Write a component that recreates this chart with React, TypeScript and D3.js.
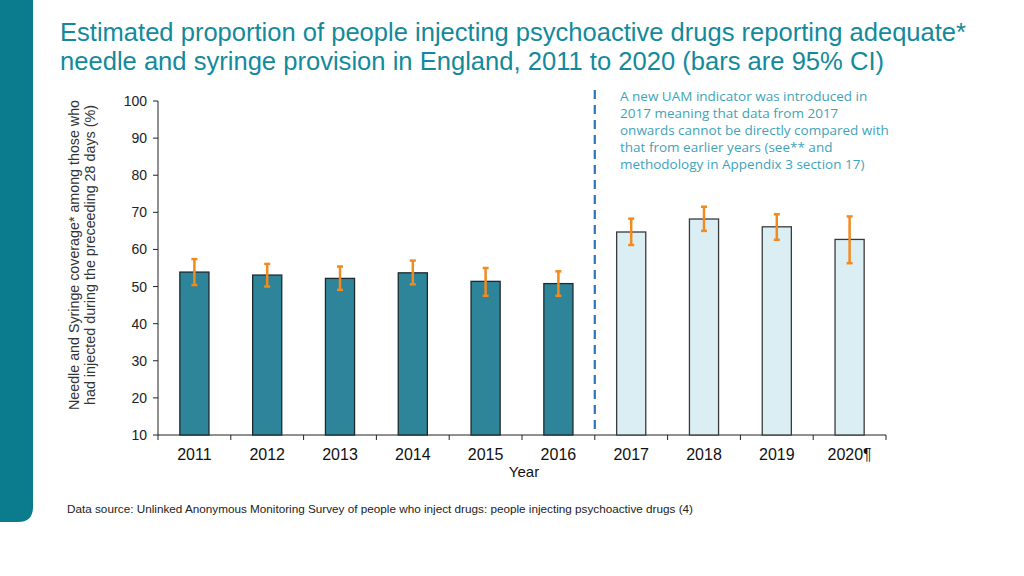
import React from "react";
import * as d3 from "d3";

const years = ["2011", "2012", "2013", "2014", "2015", "2016", "2017", "2018", "2019", "2020¶"];
const values = [53.9, 53.1, 52.2, 53.7, 51.4, 50.8, 64.7, 68.2, 66.1, 62.7];
const lower = [50.4, 50.0, 49.1, 50.6, 47.5, 47.5, 61.2, 65.0, 62.6, 56.3];
const upper = [57.4, 56.1, 55.4, 57.0, 55.0, 54.1, 68.3, 71.5, 69.5, 68.9];
const newIndicator = [false, false, false, false, false, false, true, true, true, true];
const yTicks = [10, 20, 30, 40, 50, 60, 70, 80, 90, 100];

const titleLines = [
  "Estimated proportion of people injecting psychoactive drugs reporting adequate*",
  "needle and syringe provision in England, 2011 to 2020 (bars are 95% CI)",
];
const noteLines = [
  "A new UAM indicator was introduced in",
  "2017 meaning that data from 2017",
  "onwards cannot be directly compared with",
  "that from earlier years (see** and",
  "methodology in Appendix 3 section 17)",
];
const yTitle = [
  "Needle and Syringe coverage* among those who",
  "had injected during the preceeding 28 days  (%)",
];
const source =
  "Data source: Unlinked Anonymous Monitoring Survey of people who inject drugs: people injecting psychoactive drugs (4)";

export default function App() {
  const W = 1024, H = 576;
  const left = 158, right = 886, top = 101, bottom = 435;
  const x = d3.scaleBand<string>().domain(years).range([left, right]).paddingInner(0).paddingOuter(0);
  const y = d3.scaleLinear().domain([10, 100]).range([bottom, top]);
  const bw = x.bandwidth() * 0.4;
  const teal = "#0B7B8E";
  const font = "'Liberation Sans', Arial, sans-serif";
  const dividerX = x("2017")!;
  const titleLen = [906, 824];

  return (
    <svg width={W} height={H} style={{ position: "absolute", left: 0, top: 0, background: "#fff" }}>
      <path d={`M0,0 H33 V507 Q33,522 18,522 H0 Z`} fill={teal} />
      {titleLines.map((t, i) => (
        <text key={i} x={60} y={41 + i * 29} fontFamily={font} fontSize={25.5} fill="#138A9B"
          textLength={titleLen[i]} lengthAdjust="spacingAndGlyphs">
          {t}
        </text>
      ))}

      {/* y axis */}
      <line x1={left} x2={left} y1={top} y2={bottom} stroke="#222" />
      {yTicks.map((t) => (
        <g key={t}>
          <line x1={left - 5} x2={left} y1={y(t)} y2={y(t)} stroke="#222" />
          <text x={left - 11} y={y(t) + 5} textAnchor="end" fontFamily={font} fontSize={14} fill="#222">
            {t}
          </text>
        </g>
      ))}
      {/* x axis */}
      <line x1={left} x2={right} y1={bottom} y2={bottom} stroke="#222" />
      {[...years.map((yr) => x(yr)!), right].map((p, i) => (
        <line key={i} x1={p} x2={p} y1={bottom} y2={bottom + 5} stroke="#222" />
      ))}
      {years.map((yr) => (
        <text key={yr} x={x(yr)! + x.bandwidth() / 2} y={460} textAnchor="middle" fontFamily={font} fontSize={16} fill="#111">
          {yr}
        </text>
      ))}
      <text x={524} y={477} textAnchor="middle" fontFamily={font} fontSize={15} fill="#111">Year</text>

      {/* y title */}
      <g transform={`translate(79,255) rotate(-90)`}>
        {yTitle.map((t, i) => (
          <text key={i} x={0} y={i * 16} textAnchor="middle" fontFamily={font} fontSize={14} fill="#333"
            textLength={i === 0 ? 310 : 300} lengthAdjust="spacingAndGlyphs">
            {t}
          </text>
        ))}
      </g>

      {/* bars */}
      {years.map((yr, i) => {
        const cx = x(yr)! + x.bandwidth() / 2;
        return (
          <rect
            key={yr}
            x={cx - bw / 2}
            y={y(values[i])}
            width={bw}
            height={bottom - y(values[i])}
            fill={newIndicator[i] ? "#DAEEF3" : "#2E8499"}
            stroke={newIndicator[i] ? "#3a3a3a" : "#1d2b30"}
            strokeWidth={1.3}
          />
        );
      })}
      {/* error bars */}
      {years.map((yr, i) => {
        const cx = x(yr)! + x.bandwidth() / 2;
        return (
          <g key={yr} stroke="#F28A1E" strokeWidth={2.5}>
            <line x1={cx} x2={cx} y1={y(upper[i])} y2={y(lower[i])} />
            <line x1={cx - 3} x2={cx + 3} y1={y(upper[i])} y2={y(upper[i])} />
            <line x1={cx - 3} x2={cx + 3} y1={y(lower[i])} y2={y(lower[i])} />
          </g>
        );
      })}

      {/* divider */}
      <line x1={dividerX} x2={dividerX} y1={90} y2={bottom} stroke="#2E75B6" strokeWidth={2.2} strokeDasharray="9,6" />

      {noteLines.map((t, i) => (
        <text key={i} x={620} y={101 + i * 17} fontFamily="'Open Sans', sans-serif" fontSize={13.5} fill="#3FA3B8">
          {t}
        </text>
      ))}

      <text x={67} y={513} fontFamily={font} fontSize={11} fill="#222" textLength={626} lengthAdjust="spacingAndGlyphs">{source}</text>
    </svg>
  );
}
